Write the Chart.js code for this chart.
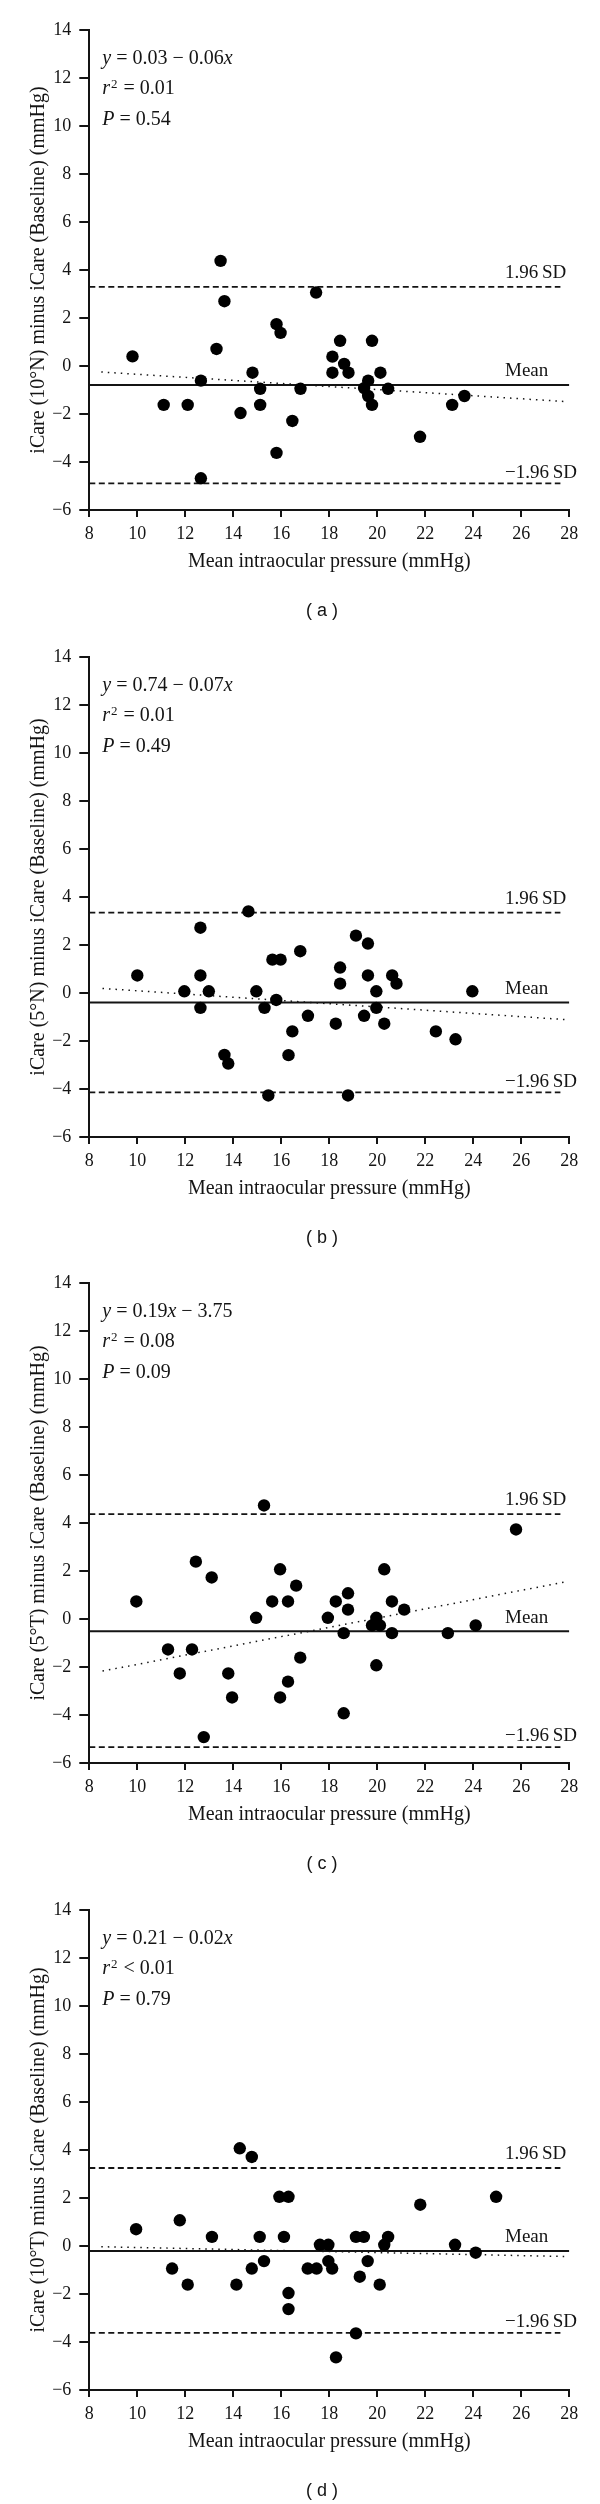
<!DOCTYPE html>
<html>
<head>
<meta charset="utf-8">
<title>iCare difference plots</title>
<script src="https://cdn.jsdelivr.net/npm/chart.js@4.4.1/dist/chart.umd.min.js"></script>
<style>
  html, body { margin: 0; padding: 0; background: #fff; overflow: hidden; }
  body { position: relative; width: 600px; height: 2504px; }
  .panel { position: absolute; left: 0; width: 600px; height: 624px; }
</style>
</head>
<body>
<div class="panel" style="top:0px"><canvas id="chart0" width="600" height="624"></canvas></div>
<div class="panel" style="top:627px"><canvas id="chart1" width="600" height="624"></canvas></div>
<div class="panel" style="top:1253px"><canvas id="chart2" width="600" height="624"></canvas></div>
<div class="panel" style="top:1880px"><canvas id="chart3" width="600" height="624"></canvas></div>
<script>
"use strict";

// mean IOP (x) and difference (y)
const iopA = [9.8, 11.1, 12.1, 12.65, 12.65, 13.3, 13.47, 13.63, 14.3, 14.8, 15.12, 15.12, 15.8, 15.97, 15.8, 16.46, 16.8, 17.45, 18.13, 18.13, 18.45, 18.62, 18.8, 19.45, 19.62, 19.62, 19.78, 19.78, 20.13, 20.45, 21.78, 23.12, 23.63];
const diffA = [0.4, -1.62, -1.62, -4.68, -0.61, 0.71, 4.38, 2.7, -1.96, -0.28, -0.95, -1.62, 1.74, 1.38, -3.62, -2.29, -0.95, 3.06, 0.39, -0.28, 1.05, 0.09, -0.28, -0.92, -0.61, -1.25, -1.62, 1.05, -0.28, -0.95, -2.95, -1.62, -1.25];

const iopB = [10.0, 11.96, 12.63, 12.63, 12.63, 12.98, 13.63, 13.79, 14.63, 14.96, 15.3, 15.46, 15.63, 15.79, 15.97, 16.3, 16.46, 16.79, 17.11, 18.27, 18.45, 18.45, 18.78, 19.11, 19.45, 19.61, 19.61, 19.96, 19.96, 20.29, 20.62, 20.8, 22.44, 23.26, 23.96];
const diffB = [0.73, 0.07, 2.72, 0.73, -0.62, 0.07, -2.58, -2.94, 3.4, 0.07, -0.62, -4.27, 1.39, -0.29, 1.39, -2.59, -1.6, 1.74, -0.95, -1.28, 1.06, 0.39, -4.27, 2.39, -0.95, 2.06, 0.73, 0.07, -0.62, -1.28, 0.73, 0.39, -1.6, -1.93, 0.07];

const iopC = [9.96, 11.28, 11.77, 12.28, 12.44, 12.77, 13.1, 13.79, 13.95, 14.95, 15.28, 15.62, 15.95, 15.95, 16.28, 16.28, 16.62, 16.79, 17.94, 18.27, 18.6, 18.6, 18.78, 18.78, 19.78, 19.96, 19.96, 20.11, 20.29, 20.61, 20.61, 21.12, 22.94, 24.1, 25.78];
const diffC = [0.73, -1.27, -2.27, -1.27, 2.39, -4.92, 1.73, -2.27, -3.27, 0.05, 4.73, 0.73, 2.07, -3.27, 0.73, -2.61, 1.39, -1.61, 0.05, 0.73, -0.59, -3.93, 1.07, 0.39, -0.27, 0.05, -1.93, -0.27, 2.07, 0.73, -0.59, 0.39, -0.59, -0.27, 3.73];

const iopD = [9.95, 11.45, 11.77, 12.1, 13.11, 14.13, 14.27, 14.77, 14.77, 15.1, 15.28, 15.92, 16.11, 16.3, 16.3, 16.3, 17.1, 17.47, 17.61, 17.96, 17.96, 18.12, 18.28, 19.11, 19.11, 19.27, 19.44, 19.6, 20.1, 20.29, 20.45, 21.79, 23.24, 24.1, 24.95];
const diffD = [0.7, -0.94, 1.07, -1.61, 0.38, -1.61, 4.07, 3.71, -0.94, 0.38, -0.63, 2.05, 0.38, 2.05, -1.96, -2.63, -0.94, -0.94, 0.05, 0.05, -0.63, -0.94, -4.64, 0.38, -3.64, -1.28, 0.38, -0.63, -1.61, 0.05, 0.38, 1.72, 0.05, -0.28, 2.05];

// mean difference and limits of agreement
const meanLines = [-0.79, -0.40, -0.51, -0.21];
const upperLimits = [3.30, 3.35, 4.37, 3.25];
const lowerLimits = [-4.89, -4.14, -5.34, -3.62];
const limitEndX = 27.63;

// dotted regression line end points
const trendX0 = [8.5, 8.55, 8.55, 8.5];
const trendY0 = [-0.25, 0.19, -2.17, -0.03];
const trendX1 = [27.8, 27.85, 27.8, 27.9];
const trendY1 = [-1.48, -1.11, 1.54, -0.44];

// text
const equations = ["y = 0.03 \u2212 0.06x", "y = 0.74 \u2212 0.07x", "y = 0.19x \u2212 3.75", "y = 0.21 \u2212 0.02x"];
const r2Texts = ["r\u00b2 = 0.01", "r\u00b2 = 0.01", "r\u00b2 = 0.08", "r\u00b2 < 0.01"];
const pTexts = ["P = 0.54", "P = 0.49", "P = 0.09", "P = 0.79"];
const yTitles = [
  "iCare (10\u00b0N) minus iCare (Baseline) (mmHg)",
  "iCare (5\u00b0N) minus iCare (Baseline) (mmHg)",
  "iCare (5\u00b0T) minus iCare (Baseline) (mmHg)",
  "iCare (10\u00b0T) minus iCare (Baseline) (mmHg)"
];
const xTitle = "Mean intraocular pressure (mmHg)";
const panelLetters = ["a", "b", "c", "d"];
const xRange = [8, 28];
const yRange = [-6, 14];
const tickStep = 2;

const iops = [iopA, iopB, iopC, iopD];
const diffs = [diffA, diffB, diffC, diffD];

const INK = "#141414";
const SERIF = "'Liberation Serif', 'Times New Roman', serif";

// draw text where letters are italic and ² is a superscript
function drawMath(ctx, text, x, y) {
  const parts = text.match(/[A-Za-z]+|\u00b2|[^A-Za-z\u00b2]+/g);
  let cx = x;
  for (const part of parts) {
    if (part === "\u00b2") {
      ctx.font = "13px " + SERIF;
      ctx.fillText("2", cx + 1, y - 6);
      cx += ctx.measureText("2").width + 2;
    } else if (/[A-Za-z]/.test(part)) {
      ctx.font = "italic 20px " + SERIF;
      ctx.fillText(part, cx, y);
      cx += ctx.measureText(part).width;
    } else {
      ctx.font = "20px " + SERIF;
      ctx.fillText(part, cx, y);
      cx += ctx.measureText(part).width;
    }
  }
}

const annotations = {
  id: "annotations",
  afterDatasetsDraw(chart, args, opts) {
    const p = opts.panel;
    const ctx = chart.ctx;
    const area = chart.chartArea;
    const yScale = chart.scales.y;
    ctx.save();
    ctx.fillStyle = INK;
    ctx.textAlign = "left";
    ctx.textBaseline = "alphabetic";

    // regression stats top left
    drawMath(ctx, equations[p], area.left + 13, area.top + 33.5);
    drawMath(ctx, r2Texts[p], area.left + 13, area.top + 64);
    drawMath(ctx, pTexts[p], area.left + 13, area.top + 94.5);

    // labels sitting on the reference lines
    ctx.font = "19px " + SERIF;
    const lx = 505;
    ctx.fillText("1.96\u2009SD", lx, yScale.getPixelForValue(upperLimits[p]) - 8.7);
    ctx.fillText("Mean", lx, yScale.getPixelForValue(meanLines[p]) - 8.7);
    ctx.fillText("\u22121.96\u2009SD", lx, yScale.getPixelForValue(lowerLimits[p]) - 5.7);

    // panel letter
    ctx.font = "18px 'Liberation Sans', Arial, sans-serif";
    ctx.textAlign = "center";
    ctx.textBaseline = "middle";
    ctx.fillText("( " + panelLetters[p] + " )", 322, area.top + 581);
    ctx.restore();
  }
};

function lineSet(points, dash, width) {
  return {
    type: "scatter",
    data: points,
    showLine: true,
    borderColor: INK,
    borderWidth: width,
    borderDash: dash,
    pointRadius: 0,
    fill: false,
    order: 1
  };
}

function buildChart(p) {
  const points = iops[p].map(function (x, i) {
    return { x: x, y: diffs[p][i] };
  });

  const datasets = [
    {
      data: points,
      backgroundColor: "#000",
      borderWidth: 0,
      pointRadius: 6.2,
      pointHoverRadius: 6.2,
      order: 0
    },
    lineSet([{ x: xRange[0], y: meanLines[p] }, { x: xRange[1], y: meanLines[p] }], [], 2),
    lineSet([{ x: xRange[0], y: upperLimits[p] }, { x: limitEndX, y: upperLimits[p] }], [6, 3.5], 1.8),
    lineSet([{ x: xRange[0], y: lowerLimits[p] }, { x: limitEndX, y: lowerLimits[p] }], [6, 3.5], 1.8),
    lineSet([{ x: trendX0[p], y: trendY0[p] }, { x: trendX1[p], y: trendY1[p] }], [1.5, 5], 1.5)
  ];

  new Chart(document.getElementById("chart" + p), {
    type: "scatter",
    data: { datasets: datasets },
    plugins: [annotations],
    options: {
      responsive: false,
      animation: false,
      devicePixelRatio: 1,
      layout: { padding: { top: 30, left: 0, right: 30.7, bottom: 34 } },
      plugins: {
        legend: { display: false },
        tooltip: { enabled: false },
        annotations: { panel: p }
      },
      scales: {
        x: {
          type: "linear",
          position: "bottom",
          min: xRange[0],
          max: xRange[1],
          ticks: {
            stepSize: tickStep,
            color: INK,
            font: { family: SERIF, size: 18 },
            padding: 6,
            maxRotation: 0,
            autoSkip: false
          },
          grid: { drawOnChartArea: false, drawTicks: true, tickLength: 7, lineWidth: 2, color: INK },
          border: { display: true, color: INK, width: 2 },
          title: {
            display: true,
            text: xTitle,
            color: INK,
            font: { family: SERIF, size: 20 },
            padding: { top: 0, bottom: 16 }
          },
          afterFit: function (scale) {
            scale.height = 80;
          }
        },
        y: {
          type: "linear",
          min: yRange[0],
          max: yRange[1],
          ticks: {
            stepSize: tickStep,
            color: INK,
            font: { family: SERIF, size: 18 },
            padding: 8,
            callback: function (v) {
              return v < 0 ? "\u2212" + Math.abs(v) : String(v);
            }
          },
          grid: { drawOnChartArea: false, drawTicks: true, tickLength: 10, lineWidth: 2, color: INK },
          border: { display: true, color: INK, width: 2 },
          title: {
            display: true,
            text: yTitles[p],
            color: INK,
            font: { family: SERIF, size: 20 },
            padding: { top: 26.5, bottom: 0 }
          },
          afterFit: function (scale) {
            scale.width = 89.3;
          }
        }
      }
    }
  });
}

document.addEventListener("DOMContentLoaded", function () {
  for (let p = 0; p < 4; p++) {
    buildChart(p);
  }
});
</script>
</body>
</html>
